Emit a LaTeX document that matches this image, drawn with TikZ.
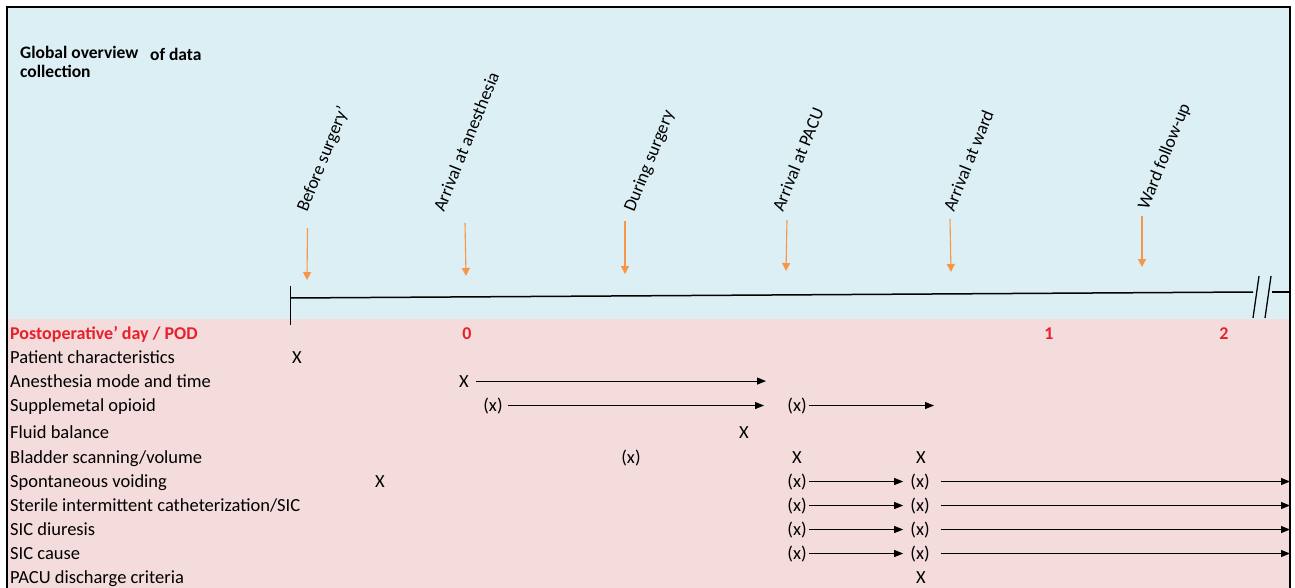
\documentclass[tikz,border=0pt]{standalone}
\usepackage{fontspec}
\setmainfont{Carlito}
\usetikzlibrary{arrows.meta}
\definecolor{bgblue}{HTML}{DBEFF4}
\definecolor{bgpink}{HTML}{F4DCDD}
\definecolor{orng}{HTML}{F79646}
\definecolor{podred}{HTML}{E8202A}
\begin{document}
\begin{tikzpicture}[x=1pt,y=-1pt,
  rowlbl/.style={anchor=base west, inner sep=0pt, font=\fontsize{18.5}{21}\selectfont},
  xm/.style={anchor=base, inner sep=2pt, font=\fontsize{18.5}{21}\selectfont},
  tl/.style={anchor=base west, rotate=68, inner sep=0pt, font=\fontsize{18}{21}\selectfont},
  oarr/.style={draw=orng, line width=1.1pt, -{Triangle[length=8pt,width=8pt]}},
  barr/.style={line width=1pt, -{Triangle[length=9pt,width=7pt]}},
  pod/.style={anchor=base, font=\bfseries\fontsize{18}{21}\selectfont, text=podred, inner sep=0pt},
  ttl/.style={anchor=base west, inner sep=0pt, font=\bfseries\fontsize{17.5}{20}\selectfont}
]
\useasboundingbox (0,0) rectangle (1295,588);
% backgrounds
\fill[bgblue] (7,7) rectangle (1290,319);
\fill[bgpink] (7,319) rectangle (1290,588);
\draw[line width=1.2pt] (7,588) -- (7,7) -- (1290,7) -- (1290,588);

% title
\node[ttl] (t1) at (20,59) {Global overview};
\node[ttl] (t2) at (150,61) {of data};
\node[ttl] (t3) at (20,78) {collection};

% timeline
\coordinate (tlA) at (290,298);
\coordinate (tlB) at (1253,292);
\coordinate (tickT) at (290,286);
\coordinate (tickB) at (290,325);
\coordinate (tlC) at (1272,292);
\coordinate (tlD) at (1290,292);
\draw[line width=1.5pt] (tlA) -- (tlB);
\draw[line width=0.8pt] (tickT) -- (tickB);
\draw[line width=1.3pt] (tlC) -- (tlD);
\coordinate (br1a) at (1259,276);
\coordinate (br1b) at (1253,318);
\coordinate (br2a) at (1271,276);
\coordinate (br2b) at (1265,318);
\draw[line width=1.3pt] (br1a) -- (br1b);
\draw[line width=1.3pt] (br2a) -- (br2b);

% phase labels
\node[tl] (p1) at (307,213) {Before surgery’};
\node[tl] (p2) at (444,213) {Arrival at anesthesia};
\node[tl] (p3) at (634,213) {During surgery};
\node[tl] (p4) at (783,213) {Arrival at PACU};
\node[tl] (p5) at (954,213) {Arrival at ward};
\node[tl] (p6) at (1148,211) {Ward follow-up};

% orange arrows
\coordinate (o1s) at (307.5,228); \coordinate (o1e) at (307,280);
\coordinate (o2s) at (465,223); \coordinate (o2e) at (466,276);
\coordinate (o3s) at (625,221); \coordinate (o3e) at (625,274);
\coordinate (o4s) at (787,220); \coordinate (o4e) at (786,271);
\coordinate (o5s) at (950,219); \coordinate (o5e) at (951,272);
\coordinate (o6s) at (1142,216); \coordinate (o6e) at (1142,267);
\foreach \i in {1,...,6} \draw[oarr] (o\i s) -- (o\i e);

% POD row
\node[pod, anchor=base west] (podl) at (10,339) {Postoperative’ day / POD};
\node[pod] (pod0) at (467,339) {0};
\node[pod] (pod1) at (1049,339) {1};
\node[pod] (pod2) at (1224,339) {2};

% row labels
\node[rowlbl] (r1) at (10,363) {Patient characteristics};
\node[rowlbl] (r2) at (10,387) {Anesthesia mode and time};
\node[rowlbl] (r3) at (10,411) {Supplemetal opioid};
\node[rowlbl] (r4) at (10,438.5) {Fluid balance};
\node[rowlbl] (r5) at (10,463) {Bladder scanning/volume};
\node[rowlbl] (r6) at (10,487) {Spontaneous voiding};
\node[rowlbl] (r7) at (10,511) {Sterile intermittent catheterization/SIC};
\node[rowlbl] (r8) at (10,535) {SIC diuresis};
\node[rowlbl] (r9) at (10,559) {SIC cause};
\node[rowlbl] (r10) at (10,583.5) {PACU discharge criteria};

% marks
\node[xm] (m1) at (297,363) {X};
\node[xm] (m2) at (464,387) {X};
\node[xm] (m3a) at (493,411) {(x)};
\node[xm] (m3b) at (797,411) {(x)};
\node[xm] (m4) at (744,438.5) {X};
\node[xm] (m5a) at (631,463) {(x)};
\node[xm] (m5b) at (797,463) {X};
\node[xm] (m5c) at (921,463) {X};
\node[xm] (m6x) at (380,487) {X};
\node[xm] (m10) at (921,583.5) {X};
\foreach \r/\y in {6/487,7/511,8/535,9/559}{
  \node[xm] (m\r a) at (797,\y) {(x)};
  \node[xm] (m\r b) at (920,\y) {(x)};
}

% arrow end points
\coordinate (e2) at (766,0);
\coordinate (e3a) at (764,0);
\coordinate (e3b) at (934,0);
\coordinate (eR) at (1290,0);

\draw[barr, shorten <=5pt] (m2.east) -- (m2.east -| e2);
\draw[barr, shorten <=3pt] (m3a.east) -- (m3a.east -| e3a);
\draw[barr] (m3b.east) -- (m3b.east -| e3b);
\foreach \r in {6,7,8,9}{
  \draw[barr, shorten >=5pt] (m\r a.east) -- (m\r b.west);
  \draw[barr, shorten <=9pt] (m\r b.east) -- (m\r b.east -| eR);
}
\end{tikzpicture}
\end{document}
